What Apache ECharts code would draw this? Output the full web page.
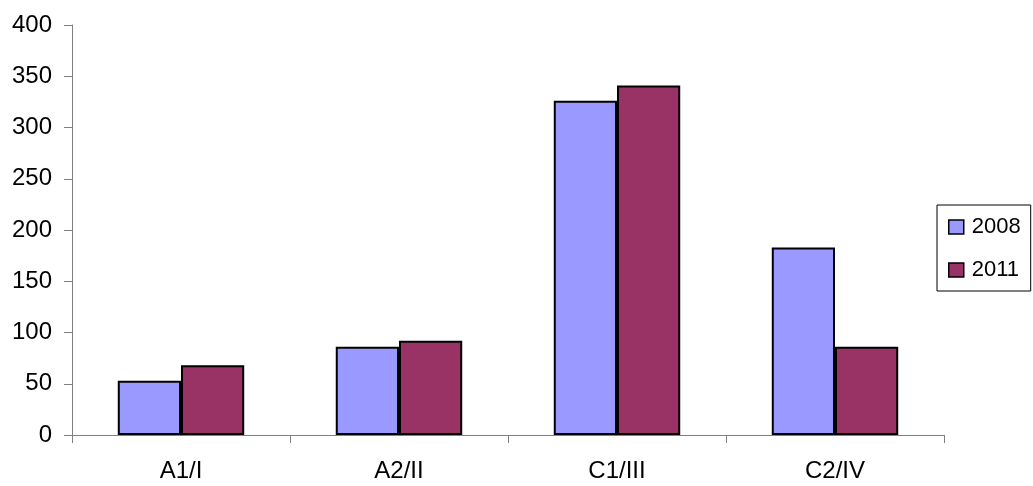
<!DOCTYPE html>
<html>
<head>
<meta charset="utf-8">
<script src="https://cdn.jsdelivr.net/npm/echarts@6/dist/echarts.min.js"></script>
<style>html,body{margin:0;padding:0;background:#fff}#c{width:1033px;height:486px}</style>
</head>
<body>
<div id="c"></div>
<script>
const categories = ['A1/I', 'A2/II', 'C1/III', 'C2/IV'];
const seriesNames = ['2008', '2011'];
const values2008 = [53, 86, 326, 183];
const values2011 = [68, 92, 341, 86];
const colors = ['#9999FF', '#993366'];

const chart = echarts.init(document.getElementById('c'), null, {renderer: 'canvas'});
const font = 'Liberation Sans, Arial, sans-serif';
chart.setOption({
  animation: false,
  backgroundColor: '#fff',
  textStyle: {fontFamily: font},
  grid: {left: 72, right: 89, top: 25, bottom: 51, containLabel: false},
  legend: {
    orient: 'vertical', left: 937, top: 205,
    padding: [11, 10, 10, 11], itemGap: 21,
    itemWidth: 15, itemHeight: 14, icon: 'rect',
    borderColor: '#000', borderWidth: 1,
    itemStyle: {borderColor: '#000', borderWidth: 1.5},
    textStyle: {fontSize: 22, color: '#000', fontFamily: font, lineHeight: 22, padding: [0, 0, 0, 3]},
    data: seriesNames
  },
  xAxis: {
    type: 'category', data: categories,
    axisLine: {lineStyle: {color: '#808080', width: 1}},
    axisTick: {show: true, length: 8, lineStyle: {color: '#808080'}},
    axisLabel: {fontSize: 24, color: '#000', margin: 24, fontFamily: font}
  },
  yAxis: {
    type: 'value', min: 0, max: 400, interval: 50,
    axisLine: {show: true, lineStyle: {color: '#808080', width: 1}},
    axisTick: {show: true, length: 8, lineStyle: {color: '#808080'}},
    splitLine: {show: false},
    axisLabel: {fontSize: 24, color: '#000', margin: 20, fontFamily: font}
  },
  series: [
    {name: seriesNames[0], type: 'bar', data: values2008, barGap: '0%', barCategoryGap: '42%',
     itemStyle: {color: colors[0], borderColor: '#000', borderWidth: 2}},
    {name: seriesNames[1], type: 'bar', data: values2011, barGap: '0%', barCategoryGap: '42%',
     itemStyle: {color: colors[1], borderColor: '#000', borderWidth: 2}}
  ]
});
</script>
</body>
</html>
